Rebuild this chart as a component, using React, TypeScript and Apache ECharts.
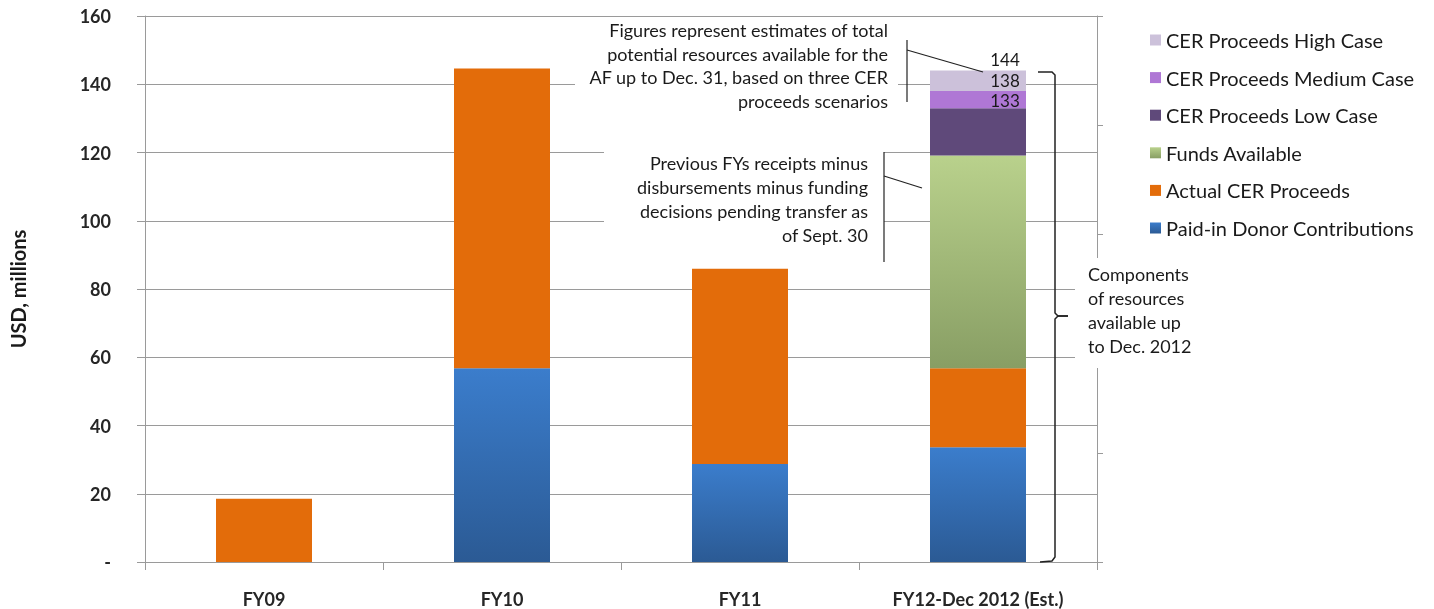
import React, { useEffect, useRef } from "react";
import * as echarts from "echarts";

const categories = ["FY09", "FY10", "FY11", "FY12-Dec 2012 (Est.)"];
const paidInDonor = [0, 56.8, 28.7, 33.6];
const actualCER = [18.5, 87.8, 57.2, 23.2];
const fundsAvailable = [null, null, null, 62.3];
const cerLowCase = [null, null, null, 13.9];
const cerMediumCase = [null, null, null, 5.0];
const cerHighCase = [null, null, null, 6.0];
const yTicks = [0, 20, 40, 60, 80, 100, 120, 140, 160];

const seriesNames = [
  "Paid-in Donor Contributions",
  "Actual CER Proceeds",
  "Funds Available",
  "CER Proceeds Low Case",
  "CER Proceeds Medium Case",
  "CER Proceeds High Case",
];

const annotation1 = [
  "Figures represent estimates of total",
  "potential resources available for the",
  "AF up to Dec. 31, based on three CER",
  "proceeds scenarios",
];
const annotation2 = [
  "Previous FYs receipts minus",
  "disbursements minus funding",
  "decisions pending transfer as",
  "of Sept. 30",
];
const annotation3 = ["Components", "of resources", "available up", "to Dec. 2012"];

const FONT = "Lato, 'Noto Sans', sans-serif";

export default function App() {
  const ref = useRef<HTMLDivElement>(null);
  useEffect(() => {
    if (!ref.current) return;
    const chart = echarts.init(ref.current, null, { renderer: "svg" });
    const allData = [paidInDonor, actualCER, fundsAvailable, cerLowCase, cerMediumCase, cerHighCase];
    const cumulative = (si: number, di: number) => {
      let s = 0;
      for (let k = 0; k <= si; k++) s += (allData[k][di] as number) || 0;
      return Math.round(s);
    };
    const blue = new echarts.graphic.LinearGradient(0, 0, 0, 1, [
      { offset: 0, color: "#3B7DCC" },
      { offset: 1, color: "#2B5A94" },
    ]);
    const green = new echarts.graphic.LinearGradient(0, 0, 0, 1, [
      { offset: 0, color: "#B9D18C" },
      { offset: 1, color: "#889E64" },
    ]);
    const colors = [blue, "#E36C0A", green, "#5F497A", "#AF77D5", "#CCC1DA"];
    const labelDy = [0, 0, 0, 2, -1, -1];
    const series = allData.map((d, si) => ({
      name: seriesNames[si],
      type: "bar",
      stack: "total",
      barWidth: 96,
      itemStyle: { color: colors[si] },
      data: d,
      label:
        si >= 3
          ? {
              show: true,
              position: "top",
              distance: 2,
              offset: [27, labelDy[si]],
              fontFamily: FONT,
              fontSize: 17,
              lineHeight: 16,
              color: "#1a1a1a",
              formatter: (p: any) => String(cumulative(si, p.dataIndex)),
            }
          : { show: false },
    }));

    const gray = "#9A9A9A";
    const textLines = (lines: string[], x: number, y0: number, lh: number, align: string) =>
      lines.map((t, i) => ({
        type: "text",
        z: 101,
        x,
        y: y0 + i * lh,
        style: {
          text: t,
          fontFamily: FONT,
          fontSize: 18,
          fill: "#1a1a1a",
          align,
          verticalAlign: "middle",
        },
      }));

    chart.setOption({
      animation: false,
      grid: { left: 145, right: 337, top: 16, bottom: 47, outerBoundsMode: "none", containLabel: false },
      legend: {
        orient: "vertical",
        left: 1145,
        top: 24,
        icon: "rect",
        itemWidth: 11,
        itemHeight: 11,
        itemGap: 15.6,
        textStyle: { fontFamily: FONT, fontSize: 20, color: "#1a1a1a", lineHeight: 22 },
        data: [...seriesNames].reverse(),
      },
      xAxis: {
        type: "category",
        data: categories,
        axisLine: { lineStyle: { color: gray } },
        axisTick: { show: true, length: 8, lineStyle: { color: gray } },
        axisLabel: {
          fontFamily: FONT,
          fontSize: 18,
          fontWeight: "bold",
          color: "#262626",
          margin: 28,
        },
      },
      yAxis: [
        {
          type: "value",
          min: yTicks[0],
          max: yTicks[yTicks.length - 1],
          interval: 20,
          name: "USD, millions",
          nameLocation: "middle",
          nameRotate: 90,
          nameGap: 117,
          nameTextStyle: { fontFamily: FONT, fontSize: 20, fontWeight: "bold", color: "#1a1a1a" },
          axisLine: { show: true, lineStyle: { color: gray } },
          axisTick: { show: true, length: 8, lineStyle: { color: gray } },
          splitLine: { show: true, lineStyle: { color: gray, width: 1 } },
          axisLabel: {
            fontFamily: FONT,
            fontSize: 18,
            fontWeight: "bold",
            color: "#262626",
            margin: 34,
            formatter: (v: number) => (v === 0 ? "-" : String(v)),
          },
        },
        {
          type: "value",
          position: "right",
          min: 0,
          max: 5,
          interval: 1,
          axisLine: { show: true, lineStyle: { color: gray } },
          axisTick: { show: true, length: 6, lineStyle: { color: gray } },
          axisLabel: { show: false },
          splitLine: { show: false },
        },
      ],
      series,
      graphic: [
        { type: "rect", z: 100, shape: { x: 575, y: 20, width: 323, height: 92 }, style: { fill: "#fff" } },
        ...textLines(annotation1, 888, 30, 23.5, "right"),
        { type: "line", z: 101, shape: { x1: 907, y1: 40, x2: 907, y2: 102 }, style: { stroke: "#222", lineWidth: 1.2 } },
        { type: "line", z: 101, shape: { x1: 907, y1: 50, x2: 983, y2: 72 }, style: { stroke: "#222", lineWidth: 1.2 } },
        { type: "rect", z: 100, shape: { x: 604, y: 145, width: 280, height: 105 }, style: { fill: "#fff" } },
        ...textLines(annotation2, 868, 163, 24, "right"),
        { type: "line", z: 101, shape: { x1: 884, y1: 152, x2: 884, y2: 262 }, style: { stroke: "#222", lineWidth: 1.2 } },
        { type: "line", z: 101, shape: { x1: 884, y1: 176, x2: 922, y2: 188 }, style: { stroke: "#222", lineWidth: 1.2 } },
        { type: "rect", z: 100, shape: { x: 1075, y: 258, width: 130, height: 110 }, style: { fill: "#fff" } },
        ...textLines(annotation3, 1088, 274, 24, "left"),
        {
          type: "polyline",
          z: 101,
          shape: { points: [[1038, 72], [1052, 72], [1055, 75], [1055, 313], [1058, 316], [1068, 316]] },
          style: { stroke: "#222", lineWidth: 1.5, fill: null },
        },
        {
          type: "polyline",
          z: 101,
          shape: { points: [[1068, 316], [1058, 316], [1055, 319], [1055, 557], [1052, 561], [1040, 562]] },
          style: { stroke: "#222", lineWidth: 1.5, fill: null },
        },
      ],
    });
    return () => chart.dispose();
  }, []);
  return <div ref={ref} style={{ position: "fixed", left: 0, top: 0, width: 1434, height: 609 }} />;
}
